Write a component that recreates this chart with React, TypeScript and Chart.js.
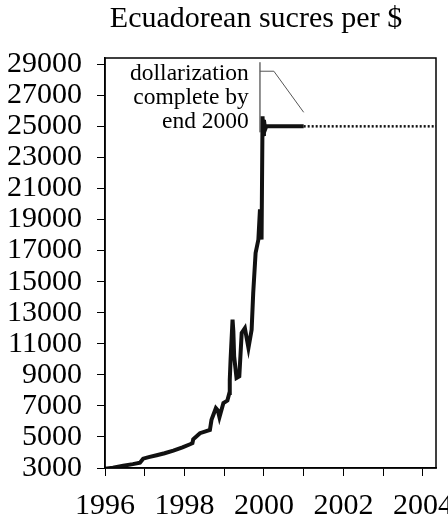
import React, { useEffect, useRef } from "react";
import { Chart, registerables } from "chart.js";

Chart.register(...registerables);

const TITLE = "Ecuadorean sucres per $";

// Exchange rate series (year, sucres per $)
const solidYears = [
  1996.0, 1996.2, 1996.46, 1996.7, 1996.88, 1996.96, 1997.1, 1997.3, 1997.5, 1997.72,
  1997.95, 1998.14, 1998.2, 1998.22, 1998.39, 1998.55, 1998.64, 1998.68, 1998.79, 1998.84,
  1998.88, 1998.98, 1999.08, 1999.13, 1999.14, 1999.16, 1999.21, 1999.23, 1999.25, 1999.31,
  1999.38, 1999.44, 1999.52, 1999.61, 1999.69, 1999.73, 1999.79, 1999.86, 1999.9, 1999.94,
  1999.965, 1999.98, 2000.0, 2000.03, 2000.06, 2001.0,
];
const solidValues = [
  2950, 3020, 3150, 3250, 3340, 3600, 3700, 3820, 3950, 4120,
  4330, 4530, 4600, 4850, 5240, 5380, 5450, 6100, 6850, 6700,
  6270, 7180, 7340, 7830, 8680, 9970, 12550, 11800, 10190, 8800,
  8900, 11700, 12000, 10730, 11900, 14270, 16850, 17710, 19650, 17710,
  25650, 24500, 25400, 24800, 25000, 25000,
];
const dottedYears = [2001.0, 2004.33];
const dottedValues = [25000, 25000];

const yTicks = [3000, 5000, 7000, 9000, 11000, 13000, 15000, 17000, 19000, 21000, 23000, 25000, 27000, 29000];
const xTicks = [1996, 1997, 1998, 1999, 2000, 2001, 2002, 2003, 2004];
const xLabelled = [1996, 1998, 2000, 2002, 2004];
const yAxisMin = 3000;
const yAxisMax = 29400;
const xMin = 1996;
const xMax = 2004.33;

const noteLines = ["dollarization", "complete by", "end 2000"];
const noteAnchorYear = 1999.62;
const noteBaselines = [27968, 26419, 24871];
const bracketYear = 1999.9;
const bracketValues = [29129, 24613];
const leaderPath = [
  [1999.9, 28548],
  [2000.25, 28548],
  [2001.0, 25903],
];

const SERIF = "'Liberation Serif', 'Times New Roman', serif";

export default function App() {
  const ref = useRef<HTMLCanvasElement | null>(null);

  useEffect(() => {
    if (!ref.current) return;

    const overlay = {
      id: "overlay",
      afterDraw(chart: any) {
        const { ctx, chartArea } = chart;
        const xs = chart.scales.x;
        const ys = chart.scales.y;
        ctx.save();
        // frame
        ctx.strokeStyle = "#000";
        ctx.lineWidth = 1.5;
        ctx.strokeRect(chartArea.left, chartArea.top, chartArea.right - chartArea.left, chartArea.bottom - chartArea.top);
        // title
        ctx.fillStyle = "#000";
        ctx.font = `30px ${SERIF}`;
        ctx.textAlign = "center";
        ctx.textBaseline = "alphabetic";
        ctx.fillText(TITLE, 256, 27);
        // note text
        ctx.font = `23.5px ${SERIF}`;
        ctx.textAlign = "right";
        noteLines.forEach((t, i) => {
          ctx.fillText(t, xs.getPixelForValue(noteAnchorYear), ys.getPixelForValue(noteBaselines[i]));
        });
        // bracket
        ctx.lineWidth = 1;
        ctx.strokeStyle = "#222";
        ctx.beginPath();
        ctx.moveTo(xs.getPixelForValue(bracketYear), ys.getPixelForValue(bracketValues[0]));
        ctx.lineTo(xs.getPixelForValue(bracketYear), ys.getPixelForValue(bracketValues[1]));
        ctx.stroke();
        ctx.strokeStyle = "#555";
        ctx.beginPath();
        leaderPath.forEach(([yr, v], i) => {
          const px = xs.getPixelForValue(yr);
          const py = ys.getPixelForValue(v);
          if (i === 0) ctx.moveTo(px, py);
          else ctx.lineTo(px, py);
        });
        ctx.stroke();
        ctx.restore();
      },
    };

    const chart = new Chart(ref.current, {
      type: "line",
      data: {
        datasets: [
          {
            data: solidYears.map((x, i) => ({ x, y: solidValues[i] })),
            borderColor: "#111",
            borderWidth: 4,
            pointRadius: 0,
            tension: 0,
            fill: false,
          },
          {
            data: dottedYears.map((x, i) => ({ x, y: dottedValues[i] })),
            borderColor: "#111",
            borderWidth: 2.5,
            borderDash: [2, 2],
            pointRadius: 0,
            tension: 0,
            fill: false,
          },
        ],
      },
      options: {
        animation: false,
        responsive: true,
        maintainAspectRatio: false,
        layout: { padding: { top: 58, left: 0, right: 12, bottom: 0 } },
        plugins: { legend: { display: false }, tooltip: { enabled: false }, title: { display: false } },
        scales: {
          x: {
            type: "linear",
            min: xMin,
            max: xMax,
            afterBuildTicks: (s: any) => {
              s.ticks = xTicks.map((value) => ({ value }));
            },
            afterFit: (s: any) => {
              s.height = 52;
              s.paddingLeft = 0;
              s.paddingRight = 0;
            },
            border: { display: true, color: "#000", width: 1.5 },
            grid: { display: true, drawOnChartArea: false, drawTicks: true, tickLength: 8, color: "#000", lineWidth: 1 },
            ticks: {
              autoSkip: false,
              maxRotation: 0,
              minRotation: 0,
              padding: 12,
              color: "#000",
              font: { family: SERIF, size: 30 },
              callback: (v: any) => (xLabelled.includes(Number(v)) ? String(v) : ""),
            },
          },
          y: {
            type: "linear",
            min: yAxisMin,
            max: yAxisMax,
            afterBuildTicks: (s: any) => {
              s.ticks = yTicks.map((value) => ({ value }));
            },
            afterFit: (s: any) => {
              s.width = 105;
              s.paddingTop = 0;
              s.paddingBottom = 0;
            },
            border: { display: true, color: "#000", width: 1.5 },
            grid: { display: true, drawOnChartArea: false, drawTicks: true, tickLength: 8, color: "#000", lineWidth: 1 },
            ticks: {
              autoSkip: false,
              padding: 15,
              color: "#000",
              font: { family: SERIF, size: 30 },
              callback: (v: any) => String(v),
            },
          },
        },
      },
      plugins: [overlay],
    });
    return () => chart.destroy();
  }, []);

  return (
    <div style={{ position: "fixed", left: 0, top: 0, width: 448, height: 520, overflow: "hidden", background: "#fff" }}>
      <canvas ref={ref} />
    </div>
  );
}
